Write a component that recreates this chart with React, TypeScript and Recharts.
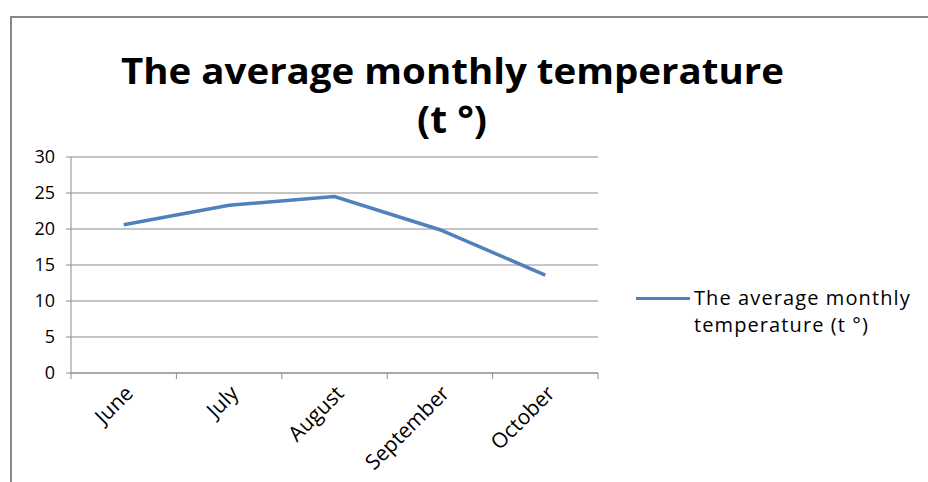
import React from "react";
import { LineChart, Line, XAxis, YAxis, CartesianGrid } from "recharts";

const months = ["June", "July", "August", "September", "October"];
const temps = [20.6, 23.3, 24.5, 19.9, 13.6];
const yTicks = [0, 5, 10, 15, 20, 25, 30];
const seriesName = "The average monthly temperature (t °)";

const data = months.map((m, i) => ({ month: m, t: temps[i] }));

const W = 928;
const H = 482;
const M = { top: 157, right: 330, bottom: 29, left: 21 };
const Y_W = 50;
const PLOT_W = W - M.left - M.right - Y_W;
const BAND = PLOT_W / months.length;
const BLUE = "#4F81BD";
const GRID = "#8c8c8c";
const FONT = "'Open Sans', sans-serif";

// excel puts the tick marks between categories, labels sit at the centre
const MonthTick = (props: any) => {
  const { x, y, payload, index } = props;
  const ax = x + 5;
  const ay = y + 16;
  return (
    <g>
      <line x1={x - BAND / 2} x2={x - BAND / 2} y1={y} y2={y + 6} stroke={GRID} />
      {index === months.length - 1 && (
        <line x1={x + BAND / 2} x2={x + BAND / 2} y1={y} y2={y + 6} stroke={GRID} />
      )}
      <text
        x={ax}
        y={ay}
        transform={`rotate(-45 ${ax} ${ay})`}
        textAnchor="end"
        dominantBaseline="central"
        fontSize={21}
        fontFamily={FONT}
        fill="#000"
      >
        {payload.value}
      </text>
    </g>
  );
};

export default function App() {
  return (
    <div style={{ position: "absolute", left: 0, top: 0, width: W, height: H, overflow: "hidden", background: "#fff" }}>
      {/* chart frame, only top/left edges visible */}
      <div style={{ position: "absolute", left: 10, top: 16, width: W + 20, height: H + 20, borderTop: "2px solid #888", borderLeft: "2px solid #888" }} />

      <svg width={W} height={150} style={{ position: "absolute", left: 0, top: 0 }}>
        <text x={121} y={84} textLength={663} lengthAdjust="spacingAndGlyphs" fontSize={36} fontWeight="bold" fontFamily={FONT} fill="#000">
          The average monthly temperature
        </text>
        <text x={417} y={133} textLength={70} lengthAdjust="spacingAndGlyphs" fontSize={37} fontWeight="bold" fontFamily={FONT} fill="#000">
          (t °)
        </text>
      </svg>

      <div style={{ position: "absolute", left: 0, top: 0 }}>
        <LineChart width={W} height={H} data={data} margin={M}>
          <CartesianGrid vertical={false} stroke={GRID} strokeWidth={1} />
          <XAxis
            dataKey="month"
            interval={0}
            height={80}
            padding={{ left: BAND / 2, right: BAND / 2 }}
            tickLine={false}
            tickSize={0}
            tickMargin={0}
            axisLine={{ stroke: GRID }}
            tick={<MonthTick />}
          />
          <YAxis
            domain={[0, 30]}
            ticks={yTicks}
            width={Y_W}
            tickSize={5}
            tickMargin={11}
            axisLine={{ stroke: GRID }}
            tickLine={{ stroke: GRID }}
            tick={{ fontSize: 18, fontFamily: FONT, fill: "#000" }}
          />
          <Line
            type="linear"
            dataKey="t"
            name={seriesName}
            stroke={BLUE}
            strokeWidth={3.5}
            dot={false}
            isAnimationActive={false}
          />
        </LineChart>
      </div>

      {/* legend */}
      <div style={{ position: "absolute", left: 636, top: 297, width: 54, height: 3, background: BLUE }} />
      <div style={{ position: "absolute", left: 694, top: 284, fontFamily: FONT, fontSize: 20, letterSpacing: 1.1, lineHeight: "27px", color: "#000", whiteSpace: "nowrap" }}>
        The average monthly
        <br />
        temperature (t °)
      </div>
    </div>
  );
}
